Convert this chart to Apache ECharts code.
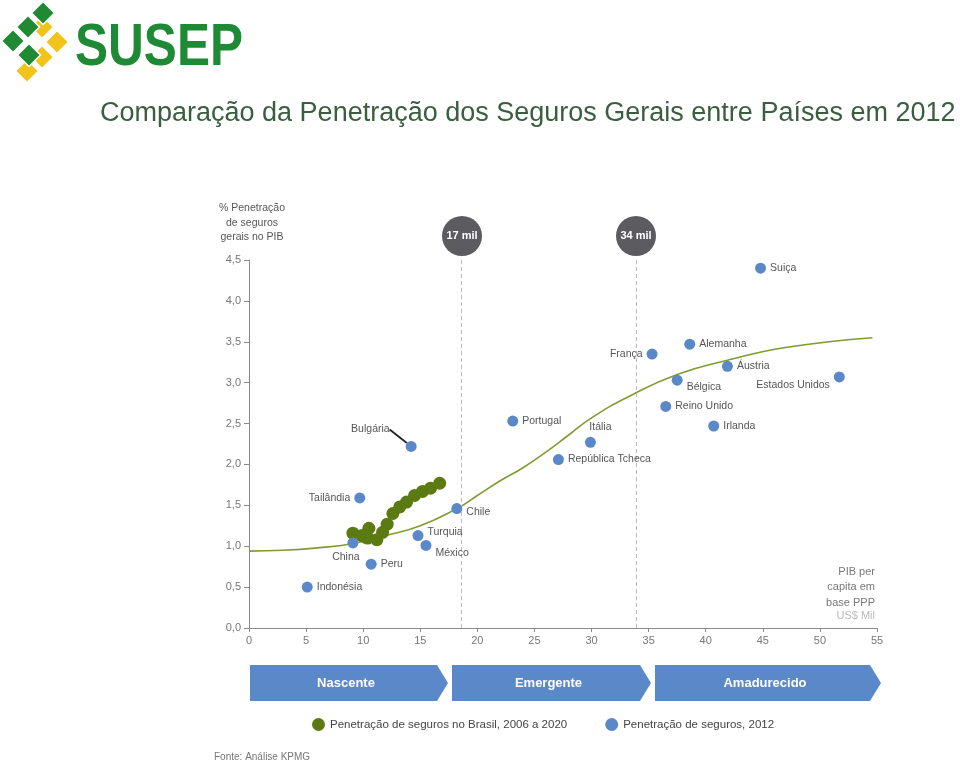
<!DOCTYPE html>
<html><head><meta charset="utf-8">
<script src="https://cdn.jsdelivr.net/npm/echarts@6/dist/echarts.min.js"></script>
<style>html,body{margin:0;padding:0;background:#fff}#c{width:960px;height:764px}</style>
</head><body><div id="c"></div>
<script>
// ---- Data ----
const countries = ['Suiça','Alemanha','França','Áustria','Bélgica','Estados Unidos','Reino Unido','Irlanda','Portugal','Itália','República Tcheca','Chile','Bulgária','Tailândia','Turquia','México','China','Peru','Indonésia'];
const pibPerCapita = [44.8,38.6,35.3,41.9,37.5,51.7,36.5,40.7,23.1,29.9,27.1,18.2,14.2,9.7,14.8,15.5,9.1,10.7,5.1];
const penetracao = [4.40,3.47,3.35,3.20,3.03,3.07,2.71,2.47,2.53,2.27,2.06,1.46,2.22,1.59,1.13,1.01,1.04,0.78,0.50];

const brasilPib = [9.1,9.9,10.2,10.5,10.4,11.2,11.7,12.1,12.6,13.2,13.8,14.5,15.2,15.9,16.7];
const brasilPen = [1.16,1.13,1.11,1.22,1.10,1.08,1.17,1.27,1.40,1.48,1.54,1.62,1.67,1.71,1.77];

const curveX = [0,3,6,9,12,15,18.2,20,22,24,26,28,30,33.4,37.5,41.8,47,54.6];
const curveY = [0.94,0.95,0.98,1.03,1.13,1.25,1.46,1.62,1.80,1.96,2.15,2.36,2.57,2.84,3.10,3.27,3.43,3.55];

const thresholds = [18.6, 33.9];
const thresholdLabels = ['17 mil','34 mil'];
const stages = ['Nascente','Emergente','Amadurecido'];
const seriesNames = ['Penetração de seguros no Brasil, 2006 a 2020','Penetração de seguros, 2012'];
const xTicks = {min:0,max:55,interval:5};
const yTicks = {min:0,max:4.5,interval:0.5};

// ---- Styles ----
const BLUE = '#5b88c8', GREEN = '#5b7a12', CURVE = '#7f9d2f';
const labelCfg = {
  'França':{position:'left'},
  'Estados Unidos':{position:'left',dy:8},
  'Bélgica':{position:'right',dy:7},
  'Itália':{position:'top',dx:10},
  'Chile':{position:'right',dy:4},
  'Tailândia':{position:'left'},
  'Turquia':{position:'right',dy:-3},
  'México':{position:'right',dy:8},
  'China':{position:'bottom',dx:-7,dy:-1},
  'Bulgária':{position:'left',dx:-12,dy:-17}
};

const chart = echarts.init(document.getElementById('c'));
const FONT = 'Liberation Sans, Arial, sans-serif';

const countryData = countries.map((n,i)=>{
  const d = {name:n, value:[pibPerCapita[i], penetracao[i]]};
  const lc = labelCfg[n] || {position:'right'};
  d.label = {show:true, position:lc.position};
  if (n==='Bulgária') d.labelLine = {show:true, lineStyle:{color:'#222',width:1.8}};
  return d;
});

function diamond(cx, cy, h, color){
  return {type:'polygon', shape:{points:[[cx,cy-h],[cx+h,cy],[cx,cy+h],[cx-h,cy]]},
          style:{fill:color, stroke:'#fff', lineWidth:1.5}, z:100};
}
const YEL='#f2c318', GRN='#1f8a33';
const logo = [
  diamond(42,27,11.5,YEL), diamond(57,42,11.5,YEL), diamond(42,57,11.5,YEL), diamond(27,71,11.5,YEL),
  diamond(43,13,11.5,GRN), diamond(28,27,11.5,GRN), diamond(13,41,11.5,GRN), diamond(29,55,11.5,GRN),
  {type:'text', x:75, y:19, scaleX:0.84, style:{text:'SUSEP', font:'900 59px "Liberation Sans", Arial, sans-serif', fill:'#1e8a35', verticalAlign:'top'}, z:100}
];

const arrows = [];
const arrowX = [[250,448],[452,651],[655,881]];
stages.forEach((s,i)=>{
  const [a,b]=arrowX[i];
  arrows.push({type:'polygon', shape:{points:[[a,665],[b-11,665],[b,683],[b-11,701],[a,701]]}, style:{fill:'#5b88c8'}});
  arrows.push({type:'text', x:(a+b-6)/2, y:683, style:{text:s, fill:'#fff', font:'bold 13px '+FONT, align:'center', verticalAlign:'middle'}});
});

const circles = [];
const circX = [462,636];
thresholdLabels.forEach((t,i)=>{
  circles.push({type:'circle', shape:{cx:circX[i], cy:236, r:20}, style:{fill:'#5c5b60'}, z:50});
  circles.push({type:'text', x:circX[i], y:236, style:{text:t, fill:'#fff', font:'bold 11px '+FONT, align:'center', verticalAlign:'middle'}, z:51});
});

chart.setOption({
  animation:false,
  backgroundColor:'#fff',
  textStyle:{fontFamily:FONT},
  grid:{left:249, top:260, width:628, height:368, containLabel:false},
  xAxis:{type:'value', min:xTicks.min, max:xTicks.max, interval:xTicks.interval,
    axisLine:{lineStyle:{color:'#8a8a8a'}}, axisTick:{show:true, length:4, lineStyle:{color:'#8a8a8a'}},
    splitLine:{show:false}, axisLabel:{color:'#777', fontSize:11, margin:7}},
  yAxis:{type:'value', min:yTicks.min, max:yTicks.max, interval:yTicks.interval,
    axisLine:{show:true, lineStyle:{color:'#8a8a8a'}}, axisTick:{show:true, length:5, lineStyle:{color:'#8a8a8a'}},
    splitLine:{show:false}, axisLabel:{color:'#777', fontSize:11, margin:8, formatter:v=>v.toFixed(1).replace('.',',')}},
  legend:{left:307, top:713, itemWidth:13, itemHeight:13, itemGap:38, icon:'circle',
    textStyle:{color:'#444', fontSize:11.5, fontFamily:FONT}, data:seriesNames},
  graphic:[
    ...logo,
    {type:'text', left:100, top:100, style:{text:'Comparação da Penetração dos Seguros Gerais entre Países em 2012', font:'27px '+FONT, fill:'#3b5e40'}},
    {type:'text', x:252, y:201, style:{text:'% Penetração\nde seguros\ngerais no PIB', font:'10.5px '+FONT, fill:'#555', align:'center', lineHeight:14.5, verticalAlign:'top'}},
    {type:'text', x:875, y:564, style:{text:'PIB per\ncapita em\nbase PPP', font:'11px '+FONT, fill:'#777', align:'right', lineHeight:15.5, verticalAlign:'top'}},
    {type:'text', x:875, y:610, style:{text:'US$ Mil', font:'11px '+FONT, fill:'#bbb', align:'right', verticalAlign:'top'}},
    ...circles,
    ...arrows,
    {type:'text', left:214, top:752, style:{text:'Fonte: Análise KPMG', font:'10px '+FONT, fill:'#777'}}
  ],
  series:[
    {type:'line', name:'curve', smooth:0.5, showSymbol:false, silent:true,
      lineStyle:{color:CURVE, width:1.6}, data:curveX.map((x,i)=>[x,curveY[i]]), z:2,
      markLine:{silent:true, symbol:'none', label:{show:false},
        lineStyle:{color:'#bbb', type:[4,3], width:1}, data:thresholds.map(t=>({xAxis:t}))}},
    {type:'scatter', name:seriesNames[0], symbolSize:13, itemStyle:{color:GREEN, opacity:1},
      data:brasilPib.map((x,i)=>[x,brasilPen[i]]), z:4},
    {type:'scatter', name:seriesNames[1], symbolSize:11, itemStyle:{color:BLUE, opacity:1},
      label:{show:true, formatter:'{b}', color:'#555', fontSize:10.5, distance:4},
      labelLayout:function(p){
        const c = labelCfg[countries[p.dataIndex]];
        if (c && (c.dx || c.dy)) return {dx:c.dx||0, dy:c.dy||0};
      },
      data:countryData, z:5}
  ]
});
</script></body></html>
